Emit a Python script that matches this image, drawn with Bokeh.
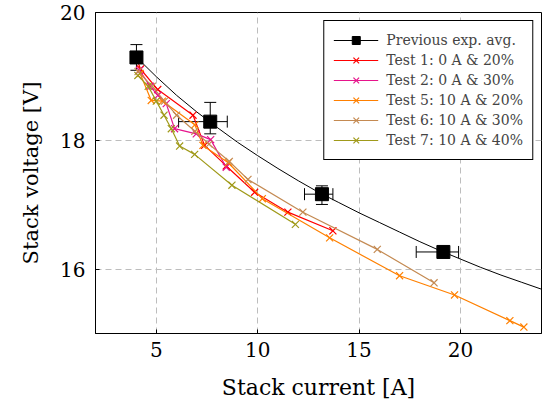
from bokeh.plotting import figure
from bokeh.models import (ColumnDataSource, Whisker, TeeHead, Legend, LegendItem,
                          FixedTicker, Range1d)
from bokeh.embed import file_html
from bokeh.resources import INLINE

# ---- data ----
# previous experimental average (with asymmetric error bars)
avg_I = [4.02, 7.66, 13.17, 19.16]
avg_V = [19.30, 18.30, 17.17, 16.27]
avg_I_lo = [4.02, 6.10, 12.31, 17.82]
avg_I_hi = [4.02, 8.50, 13.71, 19.91]
avg_V_lo = [19.10, 18.11, 17.01, 16.24]
avg_V_hi = [19.50, 18.60, 17.30, 16.30]

# fitted curve through previous averages
fit_I = [4.0, 5.0, 6.0, 7.0, 8.0, 9.0, 10.0, 11.0, 12.0, 13.0, 14.0, 15.0,
         16.0, 17.0, 18.0, 19.0, 20.0, 21.0, 22.0, 23.0, 24.0]
fit_V = [19.31, 19.00, 18.71, 18.45, 18.21, 17.98, 17.77, 17.57, 17.38, 17.20,
         17.04, 16.88, 16.73, 16.58, 16.43, 16.29, 16.16, 16.03, 15.91, 15.80, 15.69]

t1_I = [4.02, 4.22, 5.07, 6.81, 7.38, 8.45, 9.85, 11.49, 13.71]
t1_V = [19.29, 19.12, 18.80, 18.40, 17.93, 17.61, 17.20, 16.89, 16.60]

t2_I = [4.17, 4.70, 5.08, 5.49, 5.90, 6.97, 7.68, 8.45]
t2_V = [19.10, 18.85, 18.71, 18.58, 18.19, 18.11, 18.02, 17.59]

t5_I = [4.20, 4.75, 5.30, 6.90, 7.30, 8.55, 10.23, 13.55, 17.00, 19.71, 22.44, 23.13]
t5_V = [19.05, 18.63, 18.62, 18.25, 17.93, 17.66, 17.10, 16.49, 15.90, 15.60, 15.20, 15.10]

t6_I = [4.10, 4.80, 5.40, 6.00, 6.90, 7.60, 8.60, 9.52, 12.23, 15.90, 18.70]
t6_V = [19.08, 18.85, 18.62, 18.40, 18.15, 17.95, 17.68, 17.40, 16.89, 16.31, 15.79]

t7_I = [4.09, 4.60, 5.00, 5.38, 5.74, 6.15, 6.89, 8.73, 11.86]
t7_V = [19.02, 18.85, 18.62, 18.40, 18.19, 17.92, 17.79, 17.31, 16.70]

labels = ["Previous exp. avg.", "Test 1: 0 A & 20%", "Test 2: 0 A & 30%",
          "Test 5: 10 A & 20%", "Test 6: 10 A & 30%", "Test 7: 10 A & 40%"]
colors = ["black", "#ff0000", "#e6148c", "#ff8000", "#c48a52", "#a09a1a"]

x_ticks = [5, 10, 15, 20]
y_ticks = [16, 18, 20]

FONT = "DejaVu Serif"

p = figure(width=543, height=408, output_backend="svg", toolbar_location=None,
           x_range=Range1d(2, 24), y_range=Range1d(15, 20))
p.min_border_left = 95
p.min_border_right = 2
p.min_border_top = 12
p.min_border_bottom = 75

p.outline_line_color = "black"
p.outline_line_width = 1
p.outline_line_alpha = 1

for ax in (p.xaxis[0], p.yaxis[0]):
    ax.axis_line_color = "black"
    ax.major_tick_in = 4
    ax.major_tick_out = 0
    ax.minor_tick_line_color = None
    ax.major_label_text_font = FONT
    ax.major_label_text_font_size = "20px"
    ax.axis_label_text_font = FONT
    ax.axis_label_text_font_style = "normal"
    ax.major_label_text_color = "black"
    ax.axis_label_text_color = "black"

p.xaxis.axis_label_text_font_size = "22px"
p.yaxis.axis_label_text_font_size = "21px"
p.xaxis.ticker = FixedTicker(ticks=x_ticks)
p.yaxis.ticker = FixedTicker(ticks=y_ticks)
p.xaxis.axis_label = "Stack current [A]"
p.yaxis.axis_label = "Stack voltage [V]"
p.xaxis.major_label_standoff = 8
p.yaxis.major_label_standoff = 10
p.xaxis.axis_label_standoff = 15
p.yaxis.axis_label_standoff = 14

p.grid.grid_line_color = "#bdbdbd"
p.grid.grid_line_dash = "6 4"
p.grid.grid_line_width = 1

items = []

# previous avg
fit_r = p.line(fit_I, fit_V, line_color="black", line_width=1)
src = ColumnDataSource(dict(I=avg_I, V=avg_V, Ilo=avg_I_lo, Ihi=avg_I_hi,
                            Vlo=avg_V_lo, Vhi=avg_V_hi))
wx = Whisker(base="V", lower="Ilo", upper="Ihi", dimension="width", source=src,
             line_color="black", line_width=1,
             upper_head=TeeHead(size=12, line_color="black"),
             lower_head=TeeHead(size=12, line_color="black"))
wy = Whisker(base="I", lower="Vlo", upper="Vhi", dimension="height", source=src,
             line_color="black", line_width=1,
             upper_head=TeeHead(size=12, line_color="black"),
             lower_head=TeeHead(size=12, line_color="black"))
p.add_layout(wx)
p.add_layout(wy)

series = [(t1_I, t1_V), (t2_I, t2_V), (t5_I, t5_V), (t6_I, t6_V), (t7_I, t7_V)]
test_items = []
for (xs, ys), c, lab in zip(series, colors[1:], labels[1:]):
    lr = p.line(xs, ys, line_color=c, line_width=1.2)
    sr = p.scatter(xs, ys, marker="x", size=10, line_color=c, line_width=1.2)
    test_items.append(LegendItem(label=lab, renderers=[lr, sr]))

sq_r = p.scatter("I", "V", source=src, marker="square", size=13,
                 fill_color="black", line_color="black")
items.append(LegendItem(label=labels[0], renderers=[fit_r, sq_r]))
items.extend(test_items)

legend = Legend(items=items, location="top_right")
legend.label_text_font = FONT
legend.label_text_font_size = "14px"
legend.border_line_color = "black"
legend.border_line_width = 1
legend.border_line_alpha = 1
legend.background_fill_alpha = 1
legend.glyph_width = 45
legend.glyph_height = 20
legend.label_height = 20
legend.label_standoff = 8
legend.spacing = 0
legend.padding = 9
legend.margin = 8
p.add_layout(legend)

open("out.html", "w").write(file_html(p, INLINE))
